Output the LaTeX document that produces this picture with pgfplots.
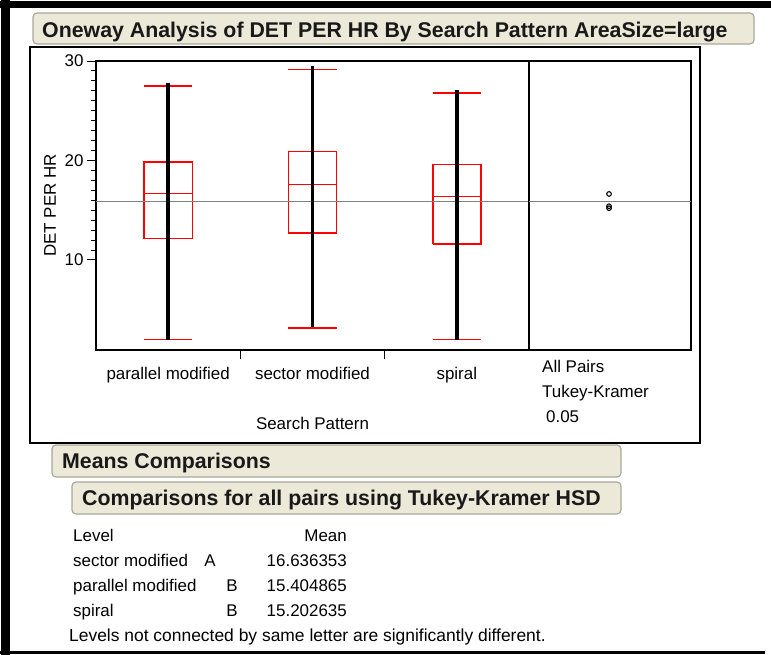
\documentclass[border=0pt]{standalone}
\usepackage{fontspec}
\setmainfont{Liberation Sans}
\usepackage{pgfplots}
\pgfplotsset{compat=1.18}
\definecolor{jmpbeige}{RGB}{236,233,216}
\definecolor{jmpborder}{RGB}{168,168,155}
\definecolor{meangray}{RGB}{128,128,128}
\newcommand{\nf}{\fontsize{17}{20}\selectfont}
\newcommand{\hf}{\fontsize{21.4}{25}\selectfont\bfseries}
\begin{document}
\begin{tikzpicture}
\path[use as bounding box, fill=white] (0,0) rectangle (771bp,-655bp);
% outer black borders
\fill[black] (0,-1bp) rectangle (771bp,-8bp);
\fill[black] (1bp,0) rectangle (10bp,-655bp);
\fill[black] (0,-651bp) rectangle (765bp,-654bp);
% title bar
\draw[jmpborder, fill=jmpbeige, rounded corners=4bp, line width=1.2bp] (33bp,-13bp) rectangle (754bp,-44bp);
\node[anchor=base west, inner sep=0, font=\hf, text=black!90] at (42bp,-37bp) {Oneway Analysis of DET PER HR By Search Pattern AreaSize=large};
% report frame
\draw[line width=1.3bp] (30bp,-47bp) rectangle (700bp,-443bp);

\begin{axis}[
  at={(96bp,-350bp)}, anchor=south west, scale only axis,
  width=433bp, height=289bp,
  xmin=0, xmax=3, ymin=0.95, ymax=30,
  axis line style={line width=1.2bp},
  tick align=outside, tick style={black, line width=1bp},
  major tick length=9bp, minor tick length=5bp,
  ytick={10,20,30}, minor y tick num=9, ytick pos=left,
  xtick={1,2}, xticklabels={}, xtick pos=bottom,
  extra x ticks={0.5,1.5,2.5},
  extra x tick labels={parallel modified, sector modified, spiral},
  extra x tick style={major tick length=0pt, tick label style={yshift=-14bp}},
  ticklabel style={font=\nf},
  /pgf/number format/assume math mode=true,
  ylabel={DET PER HR}, xlabel={Search Pattern},
  label style={font=\nf},
  xlabel style={at={(axis description cs:0.5,0)}, anchor=base, yshift=-79bp},
  ylabel style={at={(axis description cs:-0.106,0.5)}, anchor=center},
]
% parallel modified
\addplot[draw=red, line width=1.4bp] coordinates {(0.3335,12.15) (0.6665,12.15) (0.6665,19.85) (0.3335,19.85) (0.3335,12.15)};
\addplot[draw=red, line width=1.4bp] coordinates {(0.3335,16.7) (0.6665,16.7)};
\addplot[draw=red, line width=1.4bp] coordinates {(0.3335,27.5) (0.6665,27.5)};
\addplot[draw=red, line width=1.4bp] coordinates {(0.3335,2.0) (0.6665,2.0)};
% sector modified
\addplot[draw=red, line width=1.4bp] coordinates {(1.3335,12.7) (1.6665,12.7) (1.6665,20.9) (1.3335,20.9) (1.3335,12.7)};
\addplot[draw=red, line width=1.4bp] coordinates {(1.3335,17.6) (1.6665,17.6)};
\addplot[draw=red, line width=1.4bp] coordinates {(1.3335,29.15) (1.6665,29.15)};
\addplot[draw=red, line width=1.4bp] coordinates {(1.3335,3.15) (1.6665,3.15)};
% spiral
\addplot[draw=red, line width=1.4bp] coordinates {(2.3335,11.6) (2.6665,11.6) (2.6665,19.6) (2.3335,19.6) (2.3335,11.6)};
\addplot[draw=red, line width=1.4bp] coordinates {(2.3335,16.4) (2.6665,16.4)};
\addplot[draw=red, line width=1.4bp] coordinates {(2.3335,26.8) (2.6665,26.8)};
\addplot[draw=red, line width=1.4bp] coordinates {(2.3335,2.0) (2.6665,2.0)};
\end{axis}

% overlay axis on the same scale: grand mean line, then the dense data columns
\begin{axis}[
  at={(96bp,-350bp)}, anchor=south west, scale only axis,
  width=433bp, height=289bp,
  xmin=0, xmax=3, ymin=0.95, ymax=30,
  axis lines=none, xtick=\empty, ytick=\empty,
]
\addplot[draw=meangray, line width=1.1bp] coordinates {(0,15.9) (3,15.9)};
\addplot[draw=black, line width=3.5bp] coordinates {(0.5,1.95) (0.5,27.75)};
\addplot[draw=black, line width=3.5bp] coordinates {(1.5,3.3) (1.5,29.45)};
\addplot[draw=black, line width=3.5bp] coordinates {(2.5,1.95) (2.5,27.05)};
\end{axis}

\begin{axis}[
  at={(529bp,-350bp)}, anchor=south west, scale only axis,
  width=162bp, height=289bp,
  xmin=0, xmax=1, ymin=0.95, ymax=30,
  xtick=\empty, ytick=\empty,
  axis line style={line width=1.2bp},
]
\addplot[draw=meangray, line width=1.1bp] coordinates {(0,15.9) (1,15.9)};
\addplot[only marks, mark=o, mark size=2.3bp, line width=1.1bp, black] coordinates {(0.494,16.636) (0.494,15.405) (0.494,15.203)};
\end{axis}

\node[anchor=base west, inner sep=0, font=\nf] at (542bp,-372bp) {All Pairs};
\node[anchor=base west, inner sep=0, font=\nf] at (542bp,-397bp) {Tukey-Kramer};
\node[anchor=base west, inner sep=0, font=\nf] at (546bp,-422bp) {0.05};

% Means comparisons
\draw[jmpborder, fill=jmpbeige, rounded corners=4bp, line width=1.2bp] (52bp,-445bp) rectangle (621bp,-477bp);
\node[anchor=base west, inner sep=0, font=\hf, text=black!90] at (62bp,-468bp) {Means Comparisons};
\draw[jmpborder, fill=jmpbeige, rounded corners=4bp, line width=1.2bp] (72bp,-482bp) rectangle (621bp,-514bp);
\node[anchor=base west, inner sep=0, font=\hf, text=black!90] at (82bp,-505bp) {Comparisons for all pairs using Tukey-Kramer HSD};

\node[anchor=base west, inner sep=0, font=\nf] at (73bp,-541bp) {Level};
\node[anchor=base east, inner sep=0, font=\nf] at (347bp,-541bp) {Mean};
\node[anchor=base west, inner sep=0, font=\nf] at (73bp,-566bp) {sector modified};
\node[anchor=base, inner sep=0, font=\nf] at (210bp,-566bp) {A};
\node[anchor=base east, inner sep=0, font=\nf] at (347bp,-566bp) {16.636353};
\node[anchor=base west, inner sep=0, font=\nf] at (73bp,-591bp) {parallel modified};
\node[anchor=base, inner sep=0, font=\nf] at (232bp,-591bp) {B};
\node[anchor=base east, inner sep=0, font=\nf] at (347bp,-591bp) {15.404865};
\node[anchor=base west, inner sep=0, font=\nf] at (73bp,-616bp) {spiral};
\node[anchor=base, inner sep=0, font=\nf] at (232bp,-616bp) {B};
\node[anchor=base east, inner sep=0, font=\nf] at (347bp,-616bp) {15.202635};
\node[anchor=base west, inner sep=0, font=\fontsize{17.5}{20}\selectfont] at (69bp,-641bp) {Levels not connected by same letter are significantly different.};
\end{tikzpicture}
\end{document}
